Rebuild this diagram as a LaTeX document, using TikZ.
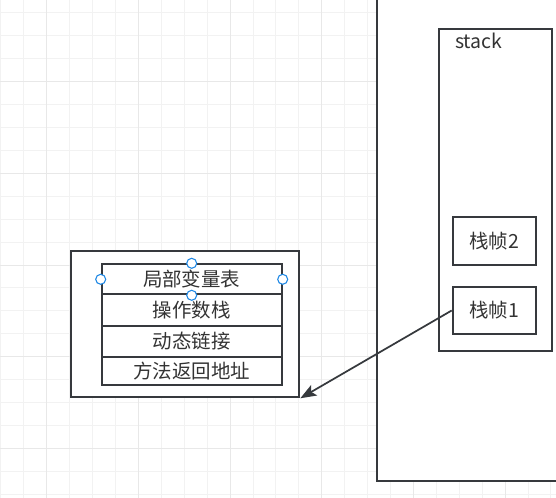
\documentclass[tikz,border=0pt]{standalone}
\usepackage{fontspec}
\setmainfont{Noto Sans CJK SC}
\usetikzlibrary{arrows.meta}
\definecolor{linec}{RGB}{54,57,61}
\definecolor{txtc}{RGB}{51,51,51}
\definecolor{handlec}{RGB}{30,136,229}
\definecolor{gridminor}{RGB}{242,242,242}
\definecolor{gridmajor}{RGB}{232,232,232}
\begin{document}
\begin{tikzpicture}[x=0.75pt,y=-0.75pt,
  box/.style={draw=linec, line width=1.5pt, fill=white, inner sep=0pt},
  lbl/.style={font=\fontsize{14.6}{17}\selectfont, text=txtc},
  handle/.style={circle, draw=handlec, fill=white, line width=0.8pt, minimum size=7.5pt, inner sep=0pt},
  conn/.style={draw=linec, line width=1.3pt, -{Stealth[length=12pt,width=9pt,inset=2.5pt]}}]
\useasboundingbox (0,0) rectangle (556,498);
\clip (0,0) rectangle (556,498);
\fill[white] (0,0) rectangle (556,498);
% grid
\foreach \k in {0,...,24} \draw[gridminor, line width=0.75pt] ({0.9+22.92*\k},0) -- ({0.9+22.92*\k},498);
\foreach \k in {0,...,21} \draw[gridminor, line width=0.75pt] (0,{12.9+22.92*\k}) -- (556,{12.9+22.92*\k});
\foreach \k in {0,...,5} \draw[gridmajor, line width=0.75pt] ({46.7+91.67*\k},0) -- ({46.7+91.67*\k},498);
\foreach \k in {0,...,4} \draw[gridmajor, line width=0.75pt] (0,{81.7+91.67*\k}) -- (556,{81.7+91.67*\k});
% big container
\node[box, minimum width=167.5pt, minimum height=375.75pt] (big) at (488.35,230.5) {};
\node[box, minimum width=84.3pt, minimum height=241.3pt] (stack) at (495.5,189.85) {};
\node[lbl, anchor=base west, inner sep=0pt] (stacklbl) at (455,48.3) {stack};
\node[box, lbl, minimum width=62.5pt, minimum height=36.2pt] (f2) at (494.35,240.85) {栈帧2};
\node[box, lbl, minimum width=62.5pt, minimum height=35.7pt] (f1) at (494.35,310.5) {栈帧1};
% frame detail
\node[box, minimum width=171.2pt, minimum height=109.7pt] (outer) at (185.15,324.15) {};
\node[box, lbl, minimum width=135pt, minimum height=22.5pt] (r1) at (191.7,279.3) {局部变量表};
\node[box, lbl, minimum width=135pt, minimum height=23.8pt] (r2) at (191.7,310.15) {操作数栈};
\node[box, lbl, minimum width=135pt, minimum height=23pt] (r3) at (191.7,341.35) {动态链接};
\node[box, lbl, minimum width=135pt, minimum height=21.2pt] (r4) at (191.7,370.85) {方法返回地址};
% selection handles
\node[handle] (hw) at (r1.west) {};
\node[handle] (he) at (r1.east) {};
\node[handle] (hn) at (r1.north) {};
\node[handle] (hs) at (r1.south) {};
% connector
\draw[conn] (f1.west) -- (outer.south east);
\end{tikzpicture}
\end{document}
